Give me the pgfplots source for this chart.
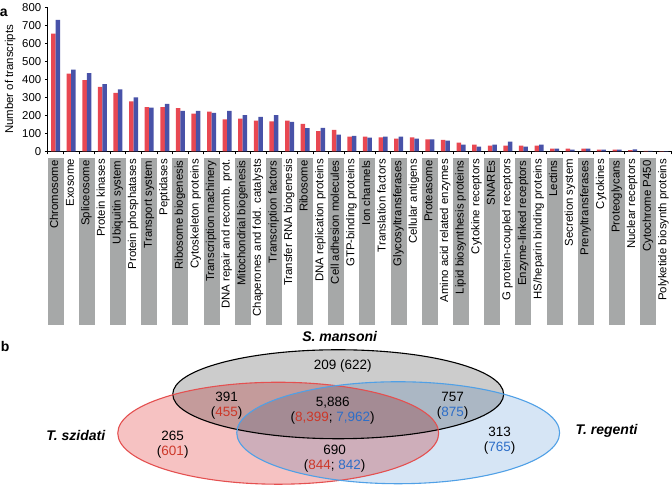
\documentclass[border=0pt]{standalone}
\usepackage{pgfplots}
\pgfplotsset{compat=1.18}
\usepackage{fontspec}
\setmainfont{Liberation Sans}
\definecolor{barred}{RGB}{232,72,82}
\definecolor{barblue}{RGB}{72,82,168}
\definecolor{boxgray}{RGB}{166,168,168}
\definecolor{numred}{RGB}{205,55,40}
\definecolor{numblue}{RGB}{45,110,200}
\definecolor{vgray}{RGB}{204,204,204}
\definecolor{vred}{RGB}{246,194,194}
\definecolor{vblue}{RGB}{214,229,245}
\definecolor{lred}{RGB}{228,80,80}
\definecolor{lblue}{RGB}{80,160,230}
\newlength\boxlen \setlength\boxlen{165pt}
\setlength\fboxsep{1.5pt}
\newcommand\gb[1]{\colorbox{boxgray}{\makebox[\boxlen][r]{#1\hspace{1.5pt}\strut}}}
\newcommand\wb[1]{\makebox[\boxlen][r]{#1\hspace{1.5pt}\strut}\hspace{1.5pt}}
\begin{document}
\begin{tikzpicture}
\begin{axis}[
  at={(48pt,334pt)}, anchor=south west, scale only axis,
  width=624pt, height=144pt,
  xmin=0.5, xmax=40.5, ymin=0, ymax=800,
  axis x line*=bottom, axis y line*=left,
  axis line style={line width=0.8pt},
  ybar=0pt, bar width=4.5pt,
  xtick={1,...,40},
  xticklabels={\gb{Chromosome},\wb{Exosome},\gb{Spliceosome},\wb{Protein kinases},\gb{Ubiquitin system},\wb{Protein phosphatases},\gb{Transport system},\wb{Peptidases},\gb{Ribosome biogenesis},\wb{Cytoskeleton proteins},\gb{Transcription machinery},\wb{DNA repair and recomb. prot.},\gb{Mitochondrial biogenesis},\wb{Chaperones and fold. catalysts},\gb{Transcription factors},\wb{Transfer RNA biogenesis},\gb{Ribosome},\wb{DNA replication proteins},\gb{Cell adhesion molecules},\wb{GTP-binding proteins},\gb{Ion channels},\wb{Translation factors},\gb{Glycosyltransferases},\wb{Cellular antigens},\gb{Proteasome},\wb{Amino acid related enzymes},\gb{Lipid biosynthesis proteins},\wb{Cytokine receptors},\gb{SNAREs},\wb{G protein-coupled receptors},\gb{Enzyme-linked receptors},\wb{HS/heparin binding proteins},\gb{Lectins},\wb{Secretion system},\gb{Prenyltransferases},\wb{Cytokines},\gb{Proteoglycans},\wb{Nuclear receptors},\gb{Cytochrome P450},\wb{Polyketide biosynth proteins}},
  tick style={black, line width=0.8pt},
  major x tick style={draw=none},
  minor xtick={0.5,1.5,...,40.5},
  minor tick length=3pt, major tick length=3pt,
  tick align=outside,
  ytick={0,100,...,800},
  xticklabel style={rotate=90, anchor=east, inner xsep=3pt, inner ysep=0pt, font=\fontsize{11.4}{13}\selectfont},
  yticklabel style={font=\fontsize{11.4}{13}\selectfont},
  /pgf/number format/assume math mode=true,
  ylabel={Number of transcripts},
  ylabel style={font=\fontsize{11.4}{13}\selectfont},
  clip=false,
]
\addplot[fill=barred, draw=none] coordinates {
(1,654) (2,432) (3,395) (4,358) (5,325) (6,278) (7,246) (8,246) (9,240) (10,210)
(11,220) (12,177) (13,181) (14,170) (15,167) (16,170) (17,153) (18,112) (19,119) (20,82)
(21,82) (22,78) (23,71) (24,78) (25,67) (26,64) (27,48) (28,37) (29,32) (30,32)
(31,32) (32,32) (33,15) (34,15) (35,15) (36,9) (37,9) (38,7) (39,2) (40,1)};
\addplot[fill=barblue, draw=none] coordinates {
(1,730) (2,454) (3,434) (4,373) (5,344) (6,300) (7,243) (8,263) (9,225) (10,225)
(11,214) (12,225) (13,201) (14,192) (15,201) (16,163) (17,129) (18,130) (19,93) (20,86)
(21,76) (22,82) (23,82) (24,71) (25,67) (26,60) (27,37) (28,26) (29,37) (30,54)
(31,26) (32,37) (33,15) (34,9) (35,15) (36,9) (37,9) (38,11) (39,2) (40,1)};
\end{axis}
\begin{axis}[
  at={(0pt,0pt)}, anchor=south west, scale only axis,
  width=672pt, height=482pt,
  xmin=0, xmax=672, ymin=0, ymax=482,
  hide axis, clip=false,
]
\fill[vgray, blend mode=multiply] (axis cs:338.5,91) ellipse [x radius=165.5, y radius=44.5];
\fill[vred, blend mode=multiply] (axis cs:278.5,52) ellipse [x radius=160.5, y radius=51];
\fill[vblue, blend mode=multiply] (axis cs:398.5,52.5) ellipse [x radius=161.5, y radius=51];
\draw[black, line width=1.1pt] (axis cs:338.5,91) ellipse [x radius=165.5, y radius=44.5];
\draw[lred, line width=1.1pt] (axis cs:278.5,52) ellipse [x radius=160.5, y radius=51];
\draw[lblue, line width=1.1pt] (axis cs:398.5,52.5) ellipse [x radius=161.5, y radius=51];
\begin{scope}[every node/.style={font=\fontsize{13.5}{15}\selectfont, align=center, inner sep=0pt}]
\node at (axis cs:343,119) {209 (622)};
\node at (axis cs:227,79.5) {391\\(\textcolor{numred}{455})};
\node at (axis cs:333,74.5) {5,886\\(\textcolor{numred}{8,399}; \textcolor{numblue}{7,962})};
\node at (axis cs:453,79.5) {757\\(\textcolor{numblue}{875})};
\node at (axis cs:173,41) {265\\(\textcolor{numred}{601})};
\node at (axis cs:335,27) {690\\(\textcolor{numred}{844}; \textcolor{numblue}{842})};
\node at (axis cs:500,44.5) {313\\(\textcolor{numblue}{765})};
\node[font=\fontsize{14}{16}\selectfont\bfseries\itshape] at (axis cs:340,149) {S. mansoni};
\node[font=\fontsize{14}{16}\selectfont\bfseries\itshape] at (axis cs:76,50) {T. szidati};
\node[font=\fontsize{14}{16}\selectfont\bfseries\itshape] at (axis cs:607,54) {T. regenti};
\node[anchor=base west, font=\fontsize{14}{16}\selectfont\bfseries] at (axis cs:0,468.5) {a};
\node[anchor=base west, font=\fontsize{14}{16}\selectfont\bfseries] at (axis cs:1,134) {b};
\end{scope}
\end{axis}
\end{tikzpicture}
\end{document}
